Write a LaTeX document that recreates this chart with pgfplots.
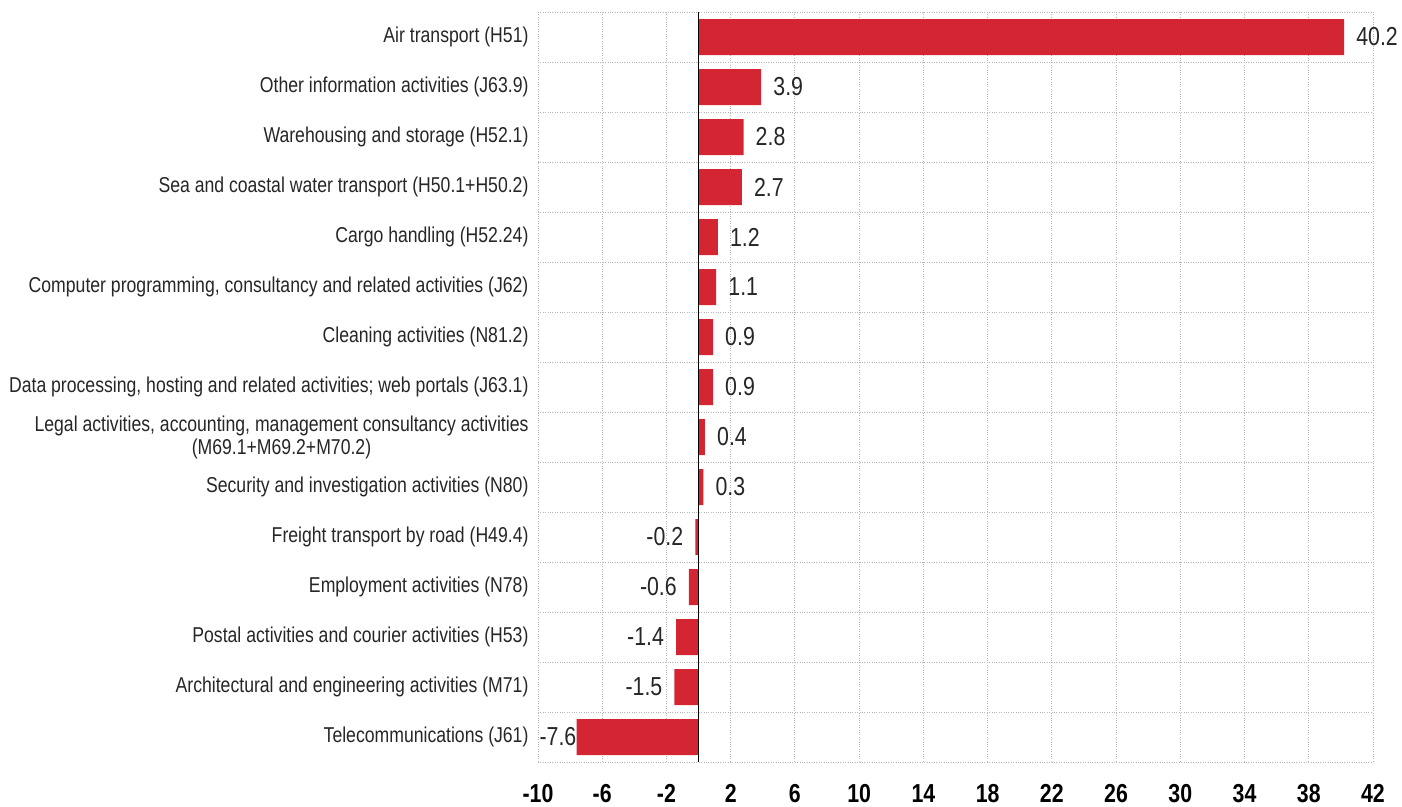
\documentclass[border=0pt]{standalone}
\usepackage{pgfplots}
\pgfplotsset{compat=1.18}
\usepackage{fontspec}
\setmainfont{Liberation Sans}[FakeStretch=0.82]
\definecolor{barred}{RGB}{212,38,50}
\pgfplotstableread{
x y sh
40.2 0 0
3.9 1 0
2.8 2 0
2.7 3 0
1.2 4 0
1.1 5 0
0.9 6 0
0.9 7 0
0.4 8 0
0.3 9 0
-0.2 10 0
-0.6 11 0
-1.4 12 0
-1.5 13 0
-7.6 14 12
}\datatable
\begin{document}
\begin{tikzpicture}
\begin{axis}[
  scale only axis, width=835pt, height=750pt,
  xmin=-10, xmax=42, ymin=-0.5, ymax=14.5, y dir=reverse,
  xbar, bar width=36pt,
  xtick={-10,-6,...,42},
  ytick={0,...,14},
  yticklabels={Air transport (H51),
    Other information activities (J63.9),
    Warehousing and storage (H52.1),
    Sea and coastal water transport (H50.1+H50.2),
    Cargo handling (H52.24),
    {Computer programming, consultancy and related activities (J62)},
    Cleaning activities (N81.2),
    {Data processing, hosting and related activities; web portals (J63.1)},
    {Legal activities, accounting, management consultancy activities\\(M69.1+M69.2+M70.2)},
    Security and investigation activities (N80),
    Freight transport by road (H49.4),
    Employment activities (N78),
    Postal activities and courier activities (H53),
    Architectural and engineering activities (M71),
    Telecommunications (J61)},
  minor ytick={-0.5,0.5,...,14.5},
  xmajorgrids, yminorgrids,
  major grid style={dotted, black!28, line width=0.9pt},
  minor grid style={dotted, black!28, line width=0.9pt},
  axis line style={draw=none},
  major tick length=0pt, minor tick length=0pt,
  yticklabel style={font=\fontsize{21.5}{23}\selectfont, align=center, text=black!85, xshift=-6pt},
  xticklabel style={font=\fontsize{26}{26}\selectfont\bfseries, yshift=-19pt},
  /pgf/number format/assume math mode=true,
  point meta=explicit,
  visualization depends on={\thisrow{sh} \as \myshift},
  nodes near coords={\pgfmathprintnumber[fixed,fixed zerofill,precision=1,assume math mode=true]{\pgfplotspointmeta}},
  nodes near coords align=horizontal,
  every node near coord/.append style={font=\fontsize{26}{26}\selectfont, text=black!85, inner xsep=12pt, xshift=\myshift pt},
]
\addplot[fill=barred, draw=none] table[x=x, y=y, meta=x] {\datatable};
\draw[black, line width=1pt] (axis cs:0,-0.5) -- (axis cs:0,14.5);
\end{axis}
\pgfresetboundingbox
\path[use as bounding box] ([xshift=-538pt,yshift=-44pt]current axis.south west) rectangle ([xshift=29pt,yshift=12pt]current axis.north east);
\end{tikzpicture}
\end{document}
